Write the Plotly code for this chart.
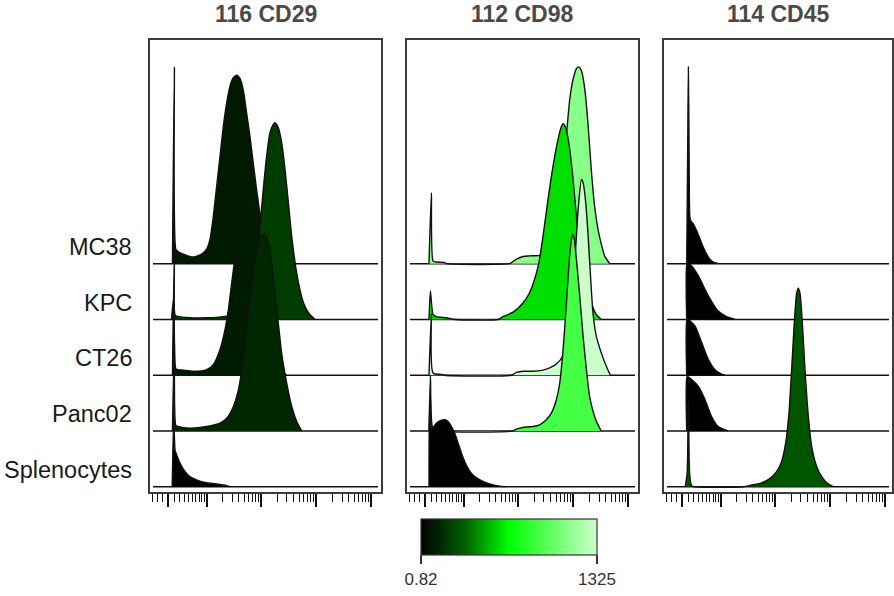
import math
import plotly.graph_objects as go
from plotly.colors import sample_colorscale

# ---------------- data ----------------
panel_titles = ["116 CD29", "112 CD98", "114 CD45"]
sample_names = ["MC38", "KPC", "CT26", "Panc02", "Splenocytes"]  # top to bottom

cofactor = 4.2  # arcsinh cofactor of the intensity axis
major_tick_values = [0, 10, 100, 1000, 10000]
minor_tick_values = [-3, -2, -1, 1, 2, 3, 4, 5, 6, 7, 8, 9,
                     20, 30, 40, 50, 60, 70, 80, 90,
                     200, 300, 400, 500, 600, 700, 800, 900,
                     2000, 3000, 4000, 5000, 6000, 7000, 8000, 9000]

color_min, color_max = 0.82, 1325
colorbar_tick_values = [0.82, 1325]
colorbar_tick_labels = ["0.82", "1325"]
colorscale = [[0.0, "rgb(0,0,0)"], [0.25, "rgb(0,96,0)"],
              [0.5, "rgb(0,255,0)"], [1.0, "rgb(204,255,204)"]]

# median intensity per sample (colour of each ridge)
cd29_median = [90, 207, 97, 138, 1]
cd98_median = [1104, 598, 1325, 884, 1]
cd45_median = [3, 3, 3, 3, 293]

# densities: x = arcsinh(intensity / cofactor), h = height in row units
cd29_mc38_x = [0.17, 0.25, 0.31, 0.40, 0.62, 1.04, 1.39, 1.60, 1.74, 1.88, 2.02, 2.16, 2.30, 2.44, 2.58, 2.72, 2.86, 3.00, 3.14, 3.27, 3.41, 3.55, 3.69, 3.83, 4.04, 4.25, 4.53, 4.81]
cd29_mc38_h = [0, 3.53, 0.26, 0.22, 0.17, 0.12, 0.17, 0.26, 0.44, 0.85, 1.39, 1.93, 2.47, 2.89, 3.19, 3.34, 3.38, 3.32, 3.10, 2.71, 2.29, 1.81, 1.33, 0.91, 0.50, 0.20, 0.05, 0]
cd29_kpc_x = [0.13, 0.21, 0.28, 0.35, 0.90, 1.60, 2.30, 2.72, 3.00, 3.27, 3.55, 3.69, 3.83, 3.97, 4.11, 4.25, 4.39, 4.46, 4.60, 4.74, 4.88, 5.02, 5.16, 5.30, 5.44, 5.65, 5.86, 6.13]
cd29_kpc_h = [0, 0.35, 0.08, 0.06, 0.03, 0.03, 0.05, 0.09, 0.18, 0.36, 0.78, 1.14, 1.67, 2.33, 2.93, 3.35, 3.50, 3.53, 3.44, 3.17, 2.69, 2.09, 1.49, 1.02, 0.66, 0.30, 0.12, 0]
cd29_ct26_x = [0.17, 0.25, 0.31, 0.40, 0.62, 1.04, 1.60, 1.88, 2.16, 2.37, 2.51, 2.65, 2.79, 2.93, 3.07, 3.21, 3.35, 3.44, 3.55, 3.69, 3.83, 3.97, 4.11, 4.25, 4.39, 4.60, 4.81, 4.95]
cd29_ct26_h = [0, 2.25, 0.12, 0.10, 0.09, 0.07, 0.10, 0.19, 0.46, 0.82, 1.18, 1.66, 2.13, 2.61, 3.03, 3.36, 3.51, 3.52, 3.39, 2.97, 2.37, 1.78, 1.24, 0.82, 0.52, 0.22, 0.04, 0]
cd29_panc02_x = [0.17, 0.25, 0.31, 0.40, 0.90, 1.60, 2.16, 2.44, 2.72, 2.93, 3.07, 3.21, 3.35, 3.48, 3.62, 3.76, 3.90, 4.04, 4.18, 4.32, 4.46, 4.60, 4.74, 4.95, 5.16, 5.37, 5.58]
cd29_panc02_h = [0, 1.60, 0.10, 0.08, 0.05, 0.08, 0.14, 0.23, 0.44, 0.74, 1.09, 1.57, 2.11, 2.65, 3.07, 3.37, 3.52, 3.53, 3.37, 3.01, 2.47, 1.93, 1.39, 0.86, 0.44, 0.17, 0]
cd29_spleno_x = [0.16, 0.22, 0.28, 0.32, 0.49, 0.70, 0.90, 1.25, 1.60, 2.02, 2.44, 2.60]
cd29_spleno_h = [0, 1.20, 0.65, 0.60, 0.42, 0.27, 0.18, 0.11, 0.07, 0.05, 0.02, 0]

cd98_mc38_x = [0.15, 0.25, 0.32, 0.46, 0.81, 0.88, 3.53, 3.60, 3.81, 4.09, 4.36, 4.78, 5.06, 5.27, 5.48, 5.62, 5.76, 5.90, 6.04, 6.18, 6.32, 6.41, 6.53, 6.67, 6.81, 6.94, 7.08, 7.22, 7.36, 7.50, 7.71]
cd98_mc38_h = [0, 1.27, 0.05, 0.03, 0.02, 0, 0, 0.02, 0.08, 0.13, 0.14, 0.15, 0.22, 0.35, 0.60, 1.00, 1.60, 2.30, 2.95, 3.31, 3.50, 3.53, 3.46, 3.13, 2.47, 1.69, 1.03, 0.62, 0.35, 0.14, 0]
cd98_kpc_x = [0.15, 0.21, 0.32, 0.46, 0.88, 1.23, 3.04, 3.25, 3.67, 4.09, 4.36, 4.57, 4.75, 4.92, 5.13, 5.34, 5.55, 5.69, 5.76, 5.87, 6.01, 6.18, 6.34, 6.53, 6.74, 6.94, 7.15, 7.36]
cd98_kpc_h = [0, 0.51, 0.09, 0.05, 0.03, 0, 0, 0.05, 0.13, 0.30, 0.48, 0.72, 1.02, 1.49, 2.15, 2.75, 3.23, 3.46, 3.51, 3.44, 3.14, 2.51, 1.76, 1.14, 0.66, 0.30, 0.09, 0]
cd98_ct26_x = [0.15, 0.25, 0.32, 0.74, 0.81, 3.60, 3.81, 4.09, 4.50, 4.92, 5.20, 5.48, 5.76, 5.97, 6.11, 6.25, 6.39, 6.53, 6.60, 6.71, 6.81, 6.90, 7.01, 7.15, 7.36, 7.57, 7.74]
cd98_ct26_h = [0, 1.10, 0.04, 0.01, 0, 0, 0.05, 0.07, 0.07, 0.09, 0.13, 0.20, 0.35, 0.70, 1.12, 2.01, 2.97, 3.51, 3.45, 3.09, 2.49, 1.84, 1.12, 0.70, 0.40, 0.16, 0]
cd98_panc02_x = [0.15, 0.21, 0.30, 0.50, 3.67, 3.74, 3.95, 4.22, 4.50, 4.78, 5.06, 5.27, 5.48, 5.62, 5.76, 5.90, 6.01, 6.09, 6.15, 6.22, 6.32, 6.46, 6.60, 6.74, 6.87, 7.08, 7.29, 7.36]
cd98_panc02_h = [0, 1.00, 0.06, 0, 0, 0.02, 0.05, 0.07, 0.08, 0.11, 0.20, 0.32, 0.56, 0.86, 1.45, 2.29, 3.01, 3.37, 3.53, 3.46, 3.07, 2.41, 1.69, 1.09, 0.62, 0.26, 0.05, 0]
cd98_spleno_x = [0.15, 0.16, 0.21, 0.25, 0.29, 0.46, 0.60, 0.81, 0.95, 1.09, 1.23, 1.37, 1.51, 1.71, 1.99, 2.34, 2.69, 3.11, 3.32]
cd98_spleno_h = [0, 1.00, 1.60, 1.05, 1.05, 1.14, 1.18, 1.20, 1.17, 1.08, 0.96, 0.78, 0.60, 0.39, 0.21, 0.11, 0.05, 0.01, 0]

cd45_mc38_x = [0.18, 0.23, 0.25, 0.28, 0.31, 0.35, 0.46, 0.60, 0.74, 0.88, 1.02, 1.15, 1.29, 1.50]
cd45_mc38_h = [0, 2.5, 3.53, 2.0, 0.85, 0.77, 0.71, 0.59, 0.44, 0.29, 0.17, 0.08, 0.03, 0]
cd45_kpc_x = [0.18, 0.19, 0.25, 0.39, 0.67, 1.09, 1.50, 1.85, 2.20]
cd45_kpc_h = [0, 0.99, 1.00, 0.96, 0.78, 0.42, 0.15, 0.05, 0]
cd45_ct26_x = [0.18, 0.19, 0.25, 0.53, 0.81, 1.09, 1.36, 1.64, 1.78]
cd45_ct26_h = [0, 1.00, 1.00, 0.88, 0.58, 0.28, 0.10, 0.02, 0]
cd45_panc02_x = [0.18, 0.19, 0.25, 0.40, 0.67, 0.95, 1.22, 1.50, 1.92]
cd45_panc02_h = [0, 0.97, 0.97, 0.92, 0.80, 0.56, 0.26, 0.08, 0]
cd45_spleno_x = [0.12, 0.20, 0.25, 0.30, 0.37, 0.45, 2.55, 2.90, 3.32, 3.67, 3.94, 4.15, 4.32, 4.46, 4.57, 4.68, 4.78, 4.85, 4.92, 5.02, 5.13, 5.27, 5.41, 5.62, 5.83, 6.04, 6.31]
cd45_spleno_h = [0, 0.25, 1.55, 0.25, 0.03, 0, 0, 0.03, 0.07, 0.15, 0.27, 0.45, 0.78, 1.32, 2.09, 2.93, 3.47, 3.56, 3.47, 2.93, 2.09, 1.26, 0.72, 0.36, 0.18, 0.07, 0]

panels = [
    (cd29_median, [(cd29_mc38_x, cd29_mc38_h), (cd29_kpc_x, cd29_kpc_h), (cd29_ct26_x, cd29_ct26_h),
                   (cd29_panc02_x, cd29_panc02_h), (cd29_spleno_x, cd29_spleno_h)]),
    (cd98_median, [(cd98_mc38_x, cd98_mc38_h), (cd98_kpc_x, cd98_kpc_h), (cd98_ct26_x, cd98_ct26_h),
                   (cd98_panc02_x, cd98_panc02_h), (cd98_spleno_x, cd98_spleno_h)]),
    (cd45_median, [(cd45_mc38_x, cd45_mc38_h), (cd45_kpc_x, cd45_kpc_h), (cd45_ct26_x, cd45_ct26_h),
                   (cd45_panc02_x, cd45_panc02_h), (cd45_spleno_x, cd45_spleno_h)]),
]

# ---------------- geometry (pixels) ----------------
W, H = 894, 596
FONT = "Liberation Sans, Arial, sans-serif"
panel_left_px = [150, 407, 664]
panel_right_px = [381, 638, 892]
frame_top_px, frame_bottom_px = 40, 492
first_baseline_px = 486.7
row_step_px = 55.75
zero_offset_px = 18.4
px_per_unit = 23.9

n_rows = len(sample_names)
y_range = [-(frame_bottom_px - first_baseline_px) / row_step_px,
           (first_baseline_px - frame_top_px) / row_step_px]
y_domain = [1 - frame_bottom_px / H, 1 - frame_top_px / H]


def tr(v):
    return math.asinh(v / cofactor)


fig = go.Figure()
layout_axes = {}
for k, (medians, dens) in enumerate(panels):
    sfx = "" if k == 0 else str(k + 1)
    xa, ya = "x" + sfx, "y" + sfx
    left, right = panel_left_px[k], panel_right_px[k]
    x0 = -zero_offset_px / px_per_unit
    x1 = x0 + (right - left) / px_per_unit
    inset = 3 / px_per_unit
    for i, name in enumerate(sample_names):
        base = n_rows - 1 - i
        fig.add_trace(go.Scatter(x=[x0 + inset, x1 - inset], y=[base, base], mode="lines",
                                 line=dict(color="#111111", width=1.5), xaxis=xa, yaxis=ya,
                                 hoverinfo="skip", showlegend=False))
        xs, hs = dens[i]
        frac = (medians[i] - color_min) / (color_max - color_min)
        frac = min(1.0, max(0.0, frac))
        col = sample_colorscale(colorscale, [frac])[0]
        fig.add_trace(go.Scatter(x=xs, y=[base + h for h in hs], mode="lines", fill="toself",
                                 fillcolor=col,
                                 line=dict(color="#111111", width=1.4, shape="spline", smoothing=0.6),
                                 xaxis=xa, yaxis=ya, name=name, showlegend=False))
    layout_axes["xaxis" + sfx] = dict(
        domain=[left / W, right / W], range=[x0, x1], anchor=ya,
        showline=True, mirror=True, linecolor="#3c3c3c", linewidth=1.5,
        showgrid=False, zeroline=False, showticklabels=False,
        ticks="outside", tickmode="array", tickvals=[tr(v) for v in major_tick_values],
        ticklen=13, tickwidth=1.6, tickcolor="#111111",
        minor=dict(tickmode="array", tickvals=[tr(v) for v in minor_tick_values],
                   ticks="outside", ticklen=8, tickwidth=1.4, tickcolor="#111111", showgrid=False),
        fixedrange=True)
    layout_axes["yaxis" + sfx] = dict(
        domain=y_domain, range=y_range, anchor=xa,
        showline=True, mirror=True, linecolor="#3c3c3c", linewidth=1.5,
        showgrid=False, zeroline=False, showticklabels=False, ticks="", fixedrange=True)

# colour bar (helper trace kept outside the visible range)
fig.add_trace(go.Scatter(
    x=[0, 0], y=[-50, -50], mode="markers", xaxis="x", yaxis="y", hoverinfo="skip",
    showlegend=False,
    marker=dict(size=1, opacity=0, color=colorbar_tick_values, colorscale=colorscale,
                cmin=color_min, cmax=color_max, showscale=True,
                colorbar=dict(orientation="h", thickness=36, thicknessmode="pixels",
                              len=176, lenmode="pixels", x=509 / W, xanchor="center",
                              y=1 - 519 / H, yanchor="top", xpad=0, ypad=0,
                              outlinewidth=1.2, outlinecolor="#333333",
                              ticks="outside", ticklen=9, tickwidth=1.6, tickcolor="#333333",
                              tickmode="array", tickvals=colorbar_tick_values,
                              ticktext=colorbar_tick_labels,
                              tickfont=dict(family=FONT, size=17, color="#333333")))))

annotations = []
for k, title in enumerate(panel_titles):
    cx = (panel_left_px[k] + panel_right_px[k]) / 2 / W
    annotations.append(dict(text="<b>" + title + "</b>", x=cx, y=1 - 14 / H, xref="paper", yref="paper",
                            xanchor="center", yanchor="middle", showarrow=False,
                            font=dict(family=FONT, size=23, color="#4a4a4a")))
for i, name in enumerate(sample_names):
    base = n_rows - 1 - i
    annotations.append(dict(text=name, x=134 / W, y=base + 0.30, xref="paper", yref="y",
                            xanchor="right", yanchor="middle", showarrow=False,
                            font=dict(family=FONT, size=23.5, color="#1a1a1a")))

fig.update_layout(width=W, height=H, margin=dict(l=0, r=0, t=0, b=0, autoexpand=False),
                  paper_bgcolor="white", plot_bgcolor="white", showlegend=False,
                  annotations=annotations, **layout_axes)

fig.write_html("out.html")
